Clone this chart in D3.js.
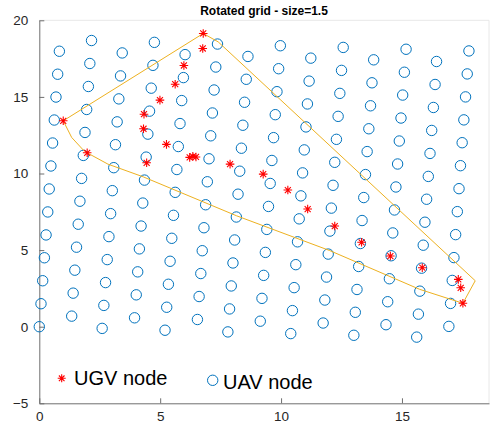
<!DOCTYPE html>
<html><head><meta charset="utf-8">
<script src="https://cdn.jsdelivr.net/npm/d3@7"></script>
<style>body{margin:0;background:#fff;} svg{display:block;}</style>
</head><body>
<svg id="chart" width="490" height="425"></svg>
<script>
const title = "Rotated grid - size=1.5";
const xTicks = [0, 5, 10, 15];
const yTicks = [-5, 0, 5, 10, 15, 20];

const uavX = [
0.00,0.07,0.14,0.21,0.28,0.35,0.41,0.48,0.55,0.62,0.69,0.76,0.83,
1.34,1.40,1.47,1.54,1.61,1.68,1.75,1.82,1.89,1.96,2.03,2.09,2.16,
2.60,2.67,2.74,2.81,2.88,2.95,3.02,3.08,3.15,3.22,3.29,3.36,3.43,
3.94,4.01,4.07,4.14,4.21,4.28,4.35,4.42,4.49,4.56,4.63,4.70,4.76,
5.20,5.27,5.34,5.41,5.48,5.55,5.62,5.69,5.75,5.82,5.89,5.96,6.03,
6.54,6.61,6.68,6.74,6.81,6.88,6.95,7.02,7.09,7.16,7.23,7.30,7.37,
7.80,7.87,7.94,8.01,8.08,8.15,8.22,8.29,8.36,8.42,8.49,8.56,8.63,
9.14,9.21,9.28,9.35,9.41,9.48,9.55,9.62,9.69,9.76,9.83,9.90,9.97,
10.40,10.47,10.54,10.61,10.68,10.75,10.82,10.89,10.96,11.03,11.09,11.16,11.23,
11.74,11.81,11.88,11.95,12.02,12.08,12.15,12.22,12.29,12.36,12.43,12.50,12.57,
13.01,13.07,13.14,13.21,13.28,13.35,13.42,13.49,13.56,13.63,13.70,13.76,13.83,
14.34,14.41,14.48,14.55,14.62,14.69,14.75,14.82,14.89,14.96,15.03,15.10,15.17,
15.61,15.68,15.74,15.81,15.88,15.95,16.02,16.09,16.16,16.23,16.30,16.37,16.43,
16.94,17.01,17.08,17.15,17.22,17.29,17.36,17.42,17.49,17.56,17.63,17.70,17.77
];
const uavY = [
0.00,1.50,3.00,4.50,5.99,7.49,8.99,10.49,11.99,13.49,14.99,16.48,17.98,
0.69,2.19,3.69,5.19,6.69,8.19,9.68,11.18,12.68,14.18,15.68,17.18,18.68,
-0.11,1.39,2.88,4.38,5.88,7.38,8.88,10.38,11.88,13.37,14.87,16.37,17.87,
0.58,2.08,3.58,5.08,6.57,8.07,9.57,11.07,12.57,14.07,15.57,17.06,18.56,
-0.23,1.27,2.77,4.27,5.77,7.27,8.77,10.26,11.76,13.26,14.76,16.26,17.76,
0.47,1.97,3.47,4.96,6.46,7.96,9.46,10.96,12.46,13.95,15.45,16.95,18.45,
-0.34,1.16,2.66,4.16,5.66,7.16,8.65,10.15,11.65,13.15,14.65,16.15,17.64,
0.36,1.85,3.35,4.85,6.35,7.85,9.35,10.85,12.34,13.84,15.34,16.84,18.34,
-0.45,1.05,2.55,4.05,5.54,7.04,8.54,10.04,11.54,13.04,14.54,16.03,17.53,
0.24,1.74,3.24,4.74,6.24,7.74,9.23,10.73,12.23,13.73,15.23,16.73,18.23,
-0.56,0.94,2.43,3.93,5.43,6.93,8.43,9.93,11.43,12.92,14.42,15.92,17.42,
0.13,1.63,3.13,4.63,6.12,7.62,9.12,10.62,12.12,13.62,15.12,16.61,18.11,
-0.68,0.82,2.32,3.82,5.32,6.82,8.32,9.81,11.31,12.81,14.31,15.81,17.31,
0.02,1.52,3.02,4.51,6.01,7.51,9.01,10.51,12.01,13.50,15.00,16.50,18.00
];

const ugvX = [0.99,1.98,6.78,6.76,5.98,5.62,4.99,4.33,4.31,5.26,4.44,6.22,6.35,6.48,7.89,9.26,10.28,11.10,12.22,13.33,14.52,15.84,17.33,17.43,17.52];
const ugvY = [13.44,11.35,19.14,18.16,17.05,15.83,14.79,13.87,12.92,11.90,10.70,11.05,11.12,11.08,10.61,9.96,8.92,7.68,6.57,5.51,4.61,3.85,3.09,2.54,1.53];

const hullX = [0.99,1.34,1.82,1.98,2.84,4.30,8.16,12.01,15.73,17.52,18.03,7.40,6.78];
const hullY = [13.44,12.35,11.53,11.35,10.61,9.78,7.24,4.97,2.44,1.53,3.00,18.59,19.14];

const legendLabels = ["UGV node", "UAV node"];

const svg = d3.select("#chart");
const font = "'Liberation Sans', Arial, Helvetica, sans-serif";
const x = d3.scaleLinear().domain([0, 18.6]).range([39.3, 489]);
const y = d3.scaleLinear().domain([-5, 20]).range([403.3, 20.3]);

// box (light)
svg.append("line").attr("x1", x(0)).attr("x2", x(18.6)).attr("y1", y(20)).attr("y2", y(20))
  .attr("stroke", "#e8e8e8").attr("stroke-width", 1);
svg.append("line").attr("x1", x(18.6)).attr("x2", x(18.6)).attr("y1", y(20)).attr("y2", y(-5))
  .attr("stroke", "#e8e8e8").attr("stroke-width", 1);

// axes
const xAxis = d3.axisBottom(x).tickValues(xTicks).tickSizeInner(-5).tickSizeOuter(0).tickPadding(8);
const yAxis = d3.axisLeft(y).tickValues(yTicks).tickSizeInner(-5).tickSizeOuter(0).tickPadding(11);
const gx = svg.append("g").attr("transform", `translate(0,${y(-5)})`).call(xAxis);
const gy = svg.append("g").attr("transform", `translate(${x(0)},0)`).call(yAxis);
[gx, gy].forEach(g => {
  g.select(".domain").attr("stroke", "#6e6e6e");
  g.selectAll(".tick line").attr("stroke", "#6e6e6e");
  g.selectAll(".tick text").attr("fill", "#262626").style("font-family", font).style("font-size", "13.5px");
});

// UAV circles
const uav = uavX.map((v, i) => ({x: v, y: uavY[i]}));
svg.append("g").selectAll("circle").data(uav).join("circle")
  .attr("cx", d => x(d.x)).attr("cy", d => y(d.y)).attr("r", 5.2)
  .attr("fill", "none").attr("stroke", "#0072BD").attr("stroke-width", 1);

// hull
const hull = hullX.map((v, i) => [x(v), y(hullY[i])]);
svg.append("path").attr("d", d3.line()(hull) + "Z")
  .attr("fill", "none").attr("stroke", "#EDB120").attr("stroke-width", 1);

// UGV asterisks
function star(s) {
  const d = s * 0.7;
  return `M${-s},0H${s}M0,${-s}V${s}M${-d},${-d}L${d},${d}M${-d},${d}L${d},${-d}`;
}
const ugv = ugvX.map((v, i) => ({x: v, y: ugvY[i]}));
svg.append("g").selectAll("path").data(ugv).join("path")
  .attr("transform", d => `translate(${x(d.x)},${y(d.y)})`)
  .attr("d", star(4.3)).attr("fill", "none").attr("stroke", "#FF0000").attr("stroke-width", 1.1);

// title
svg.append("text").attr("x", 264).attr("y", 15).attr("text-anchor", "middle")
  .style("font-family", font).style("font-size", "12px").style("font-weight", "bold").attr("fill", "#000")
  .text(title);

// legend
svg.append("path").attr("transform", "translate(61.7,378.3)").attr("d", star(4))
  .attr("fill", "none").attr("stroke", "#FF0000").attr("stroke-width", 1.1);
svg.append("text").attr("x", 74).attr("y", 384.5).style("font-family", font).style("font-size", "20px")
  .attr("fill", "#000").text(legendLabels[0]);
svg.append("circle").attr("cx", 212.7).attr("cy", 380.3).attr("r", 5.2)
  .attr("fill", "none").attr("stroke", "#0072BD").attr("stroke-width", 1);
svg.append("text").attr("x", 223).attr("y", 388.5).style("font-family", font).style("font-size", "20px")
  .attr("fill", "#000").text(legendLabels[1]);
</script>
</body></html>
